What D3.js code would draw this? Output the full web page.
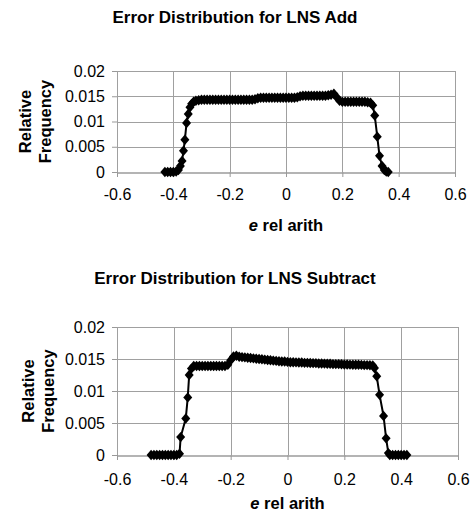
<!DOCTYPE html>
<html lang="en">
<head>
<meta charset="UTF-8">
<title>Error Distribution</title>
<script src="https://cdn.jsdelivr.net/npm/d3@7"></script>
<style>
    body { margin: 0; background: #fff; }
    svg { font-family: "Liberation Sans", Arial, Helvetica, sans-serif; display: block; }
    .tick text { font-size: 16px; fill: #000; }
    .tick line { stroke: #999; }
    .grid line { stroke: #a0a0a0; stroke-width: 1; shape-rendering: crispEdges; }
</style>
</head>
<body>
<script>
    // x ticks and y ticks shared by both panels
    var xTicks = [-0.6, -0.4, -0.2, 0, 0.2, 0.4, 0.6],
        xTickLabels = ["-0.6", "-0.4", "-0.2", "0", "0.2", "0.4", "0.6"],
        yTicks = [0, 0.005, 0.01, 0.015, 0.02],
        yTickLabels = ["0", "0.005", "0.01", "0.015", "0.02"];

    var titles = ["Error Distribution for LNS Add", "Error Distribution for LNS Subtract"];

    // [e, relative frequency]
    var addData = [
        [-0.43, 0], [-0.42, 0], [-0.41, 0], [-0.40, 0], [-0.39, 0.0001],
        [-0.382, 0.0004], [-0.375, 0.0012], [-0.369, 0.0022], [-0.364, 0.0042], [-0.359, 0.0064],
        [-0.353, 0.0097], [-0.347, 0.0115], [-0.341, 0.0128], [-0.335, 0.0135], [-0.328, 0.0139],
        [-0.32, 0.0141], [-0.31, 0.0142], [-0.30, 0.0143], [-0.29, 0.0143], [-0.28, 0.0143],
        [-0.27, 0.0143], [-0.26, 0.0143], [-0.25, 0.0143], [-0.24, 0.0143], [-0.23, 0.0143],
        [-0.22, 0.0143], [-0.21, 0.0143], [-0.20, 0.0143], [-0.19, 0.0143], [-0.18, 0.0143],
        [-0.17, 0.0143], [-0.16, 0.0143], [-0.15, 0.0143], [-0.14, 0.0143], [-0.13, 0.0143],
        [-0.12, 0.0143], [-0.11, 0.0144], [-0.10, 0.0146], [-0.09, 0.0147], [-0.08, 0.0147],
        [-0.07, 0.0147], [-0.06, 0.0147], [-0.05, 0.0147], [-0.04, 0.0147], [-0.03, 0.0147],
        [-0.02, 0.0147], [-0.01, 0.0147], [0, 0.0147], [0.01, 0.0147], [0.02, 0.0147],
        [0.03, 0.0147], [0.04, 0.0148], [0.05, 0.015], [0.06, 0.0151], [0.07, 0.0151],
        [0.08, 0.0151], [0.09, 0.0151], [0.10, 0.0151], [0.11, 0.0151], [0.12, 0.0151],
        [0.13, 0.0151], [0.14, 0.0151], [0.15, 0.0152], [0.16, 0.0153], [0.17, 0.0155],
        [0.18, 0.0148], [0.19, 0.0141], [0.20, 0.0139], [0.21, 0.0139], [0.22, 0.0139],
        [0.23, 0.0139], [0.24, 0.0139], [0.25, 0.0139], [0.26, 0.0139], [0.27, 0.0139],
        [0.28, 0.0139], [0.29, 0.0138], [0.30, 0.0137], [0.308, 0.0132], [0.315, 0.0112],
        [0.324, 0.007], [0.332, 0.0032], [0.341, 0.0012], [0.349, 0.0004], [0.356, 0.0001],
        [0.363, 0]
    ];

    var subData = [
        [-0.48, 0], [-0.47, 0], [-0.46, 0], [-0.45, 0], [-0.44, 0],
        [-0.43, 0], [-0.42, 0], [-0.41, 0], [-0.40, 0], [-0.39, 0],
        [-0.38, 0.0002], [-0.376, 0.0028], [-0.358, 0.0057], [-0.351, 0.009], [-0.346, 0.0125],
        [-0.338, 0.0135], [-0.33, 0.0139], [-0.32, 0.0139], [-0.31, 0.0139], [-0.30, 0.0139],
        [-0.29, 0.0139], [-0.28, 0.0139], [-0.27, 0.0139], [-0.26, 0.0139], [-0.25, 0.0139],
        [-0.24, 0.0139], [-0.23, 0.0139], [-0.22, 0.0139], [-0.21, 0.0141], [-0.20, 0.0148],
        [-0.19, 0.0154], [-0.18, 0.0155], [-0.17, 0.01535], [-0.16, 0.0153], [-0.15, 0.01525],
        [-0.14, 0.0152], [-0.13, 0.01515], [-0.12, 0.0151], [-0.11, 0.01505], [-0.10, 0.015],
        [-0.09, 0.01495], [-0.08, 0.0149], [-0.07, 0.01485], [-0.06, 0.0148], [-0.05, 0.01475],
        [-0.04, 0.0147], [-0.03, 0.01465], [-0.02, 0.0146], [-0.01, 0.0146], [0, 0.01455],
        [0.01, 0.0145], [0.02, 0.0145], [0.03, 0.01448], [0.04, 0.01445], [0.05, 0.01445],
        [0.06, 0.0144], [0.07, 0.0144], [0.08, 0.01438], [0.09, 0.01435], [0.10, 0.01435],
        [0.11, 0.0143], [0.12, 0.0143], [0.13, 0.01428], [0.14, 0.01425], [0.15, 0.01425],
        [0.16, 0.0142], [0.17, 0.0142], [0.18, 0.0142], [0.19, 0.01418], [0.20, 0.01415],
        [0.21, 0.01415], [0.22, 0.01412], [0.23, 0.0141], [0.24, 0.0141], [0.25, 0.0141],
        [0.26, 0.01408], [0.27, 0.01405], [0.28, 0.01405], [0.29, 0.01402], [0.30, 0.014],
        [0.306, 0.0136], [0.314, 0.0123], [0.324, 0.0094], [0.338, 0.0061], [0.347, 0.0026],
        [0.355, 0.0003], [0.36, 0], [0.37, 0], [0.38, 0], [0.39, 0],
        [0.40, 0], [0.41, 0], [0.42, 0]
    ];

    var width = 470, height = 512;

    var panels = [
        {title: titles[0], data: addData, left: 117, right: 455, top: 71, bottom: 172,
            titleY: 23, tickPad: 12, labelY: 231, relX: 25, freqX: 45},
        {title: titles[1], data: subData, left: 117, right: 458, top: 327, bottom: 455,
            titleY: 284, tickPad: 14, labelY: 509, relX: 28, freqX: 48}
    ];

    var svg = d3.select("body").append("svg")
        .attr("width", width)
        .attr("height", height);

    var diamond = "M0,-5.2L4.5,0L0,5.2L-4.5,0Z";

    panels.forEach(function (p) {
        var x = d3.scaleLinear().domain([-0.6, 0.6]).range([p.left, p.right]);
        var y = d3.scaleLinear().domain([0, 0.02]).range([p.bottom, p.top]);

        var g = svg.append("g");

        // title
        g.append("text")
            .attr("x", width / 2)
            .attr("y", p.titleY)
            .attr("text-anchor", "middle")
            .style("font-size", "17px")
            .style("font-weight", "bold")
            .text(p.title);

        // grid
        var grid = g.append("g").attr("class", "grid");
        grid.selectAll(".h").data(yTicks).enter().append("line")
            .attr("x1", p.left).attr("x2", p.right)
            .attr("y1", function (d) { return Math.round(y(d)) + 0.5; })
            .attr("y2", function (d) { return Math.round(y(d)) + 0.5; })
            .style("stroke", function (d) { return d === 0 ? "#b4b4b4" : null; })
            .style("stroke-width", function (d) { return d === 0 ? 2 : null; });
        grid.selectAll(".v").data(xTicks).enter().append("line")
            .attr("y1", p.top).attr("y2", p.bottom)
            .attr("x1", function (d) { return Math.round(x(d)) + 0.5; })
            .attr("x2", function (d) { return Math.round(x(d)) + 0.5; });

        // axes
        var xAxis = d3.axisBottom(x)
            .tickValues(xTicks)
            .tickSize(5)
            .tickPadding(p.tickPad)
            .tickFormat(function (d, i) { return xTickLabels[i]; });
        g.append("g")
            .attr("transform", "translate(0," + p.bottom + ")")
            .call(xAxis)
            .call(function (a) { a.select(".domain").remove(); });

        var yAxis = d3.axisLeft(y)
            .tickValues(yTicks)
            .tickSize(5)
            .tickPadding(7)
            .tickFormat(function (d, i) { return yTickLabels[i]; });
        g.append("g")
            .attr("transform", "translate(" + p.left + ",0)")
            .call(yAxis)
            .call(function (a) { a.select(".domain").remove(); });

        g.selectAll(".tick text").attr("font-family", null).attr("font-size", null);

        // y label (two lines, rotated)
        var midY = (p.top + p.bottom) / 2;
        [["Relative", p.relX], ["Frequency", p.freqX]].forEach(function (t) {
            g.append("text")
                .attr("transform", "translate(" + t[1] + "," + midY + ") rotate(-90)")
                .attr("text-anchor", "middle")
                .attr("dy", "0.36em")
                .style("font-size", "16.5px")
                .style("font-weight", "bold")
                .text(t[0]);
        });

        // x label
        var xl = g.append("text")
            .attr("x", (p.left + p.right) / 2)
            .attr("y", p.labelY)
            .attr("text-anchor", "middle")
            .style("font-size", "16.5px")
            .style("font-weight", "bold");
        xl.append("tspan").style("font-style", "italic").text("e");
        xl.append("tspan").text(" rel arith");

        // series
        var line = d3.line()
            .x(function (d) { return x(d[0]); })
            .y(function (d) { return y(d[1]); });

        g.append("path")
            .datum(p.data)
            .attr("fill", "none")
            .attr("stroke", "#000")
            .attr("stroke-width", 2)
            .attr("d", line);

        g.selectAll(".pt").data(p.data).enter().append("path")
            .attr("class", "pt")
            .attr("d", diamond)
            .attr("fill", "#000")
            .attr("transform", function (d) {
                return "translate(" + x(d[0]) + "," + y(d[1]) + ")";
            });
    });
</script>
</body>
</html>
